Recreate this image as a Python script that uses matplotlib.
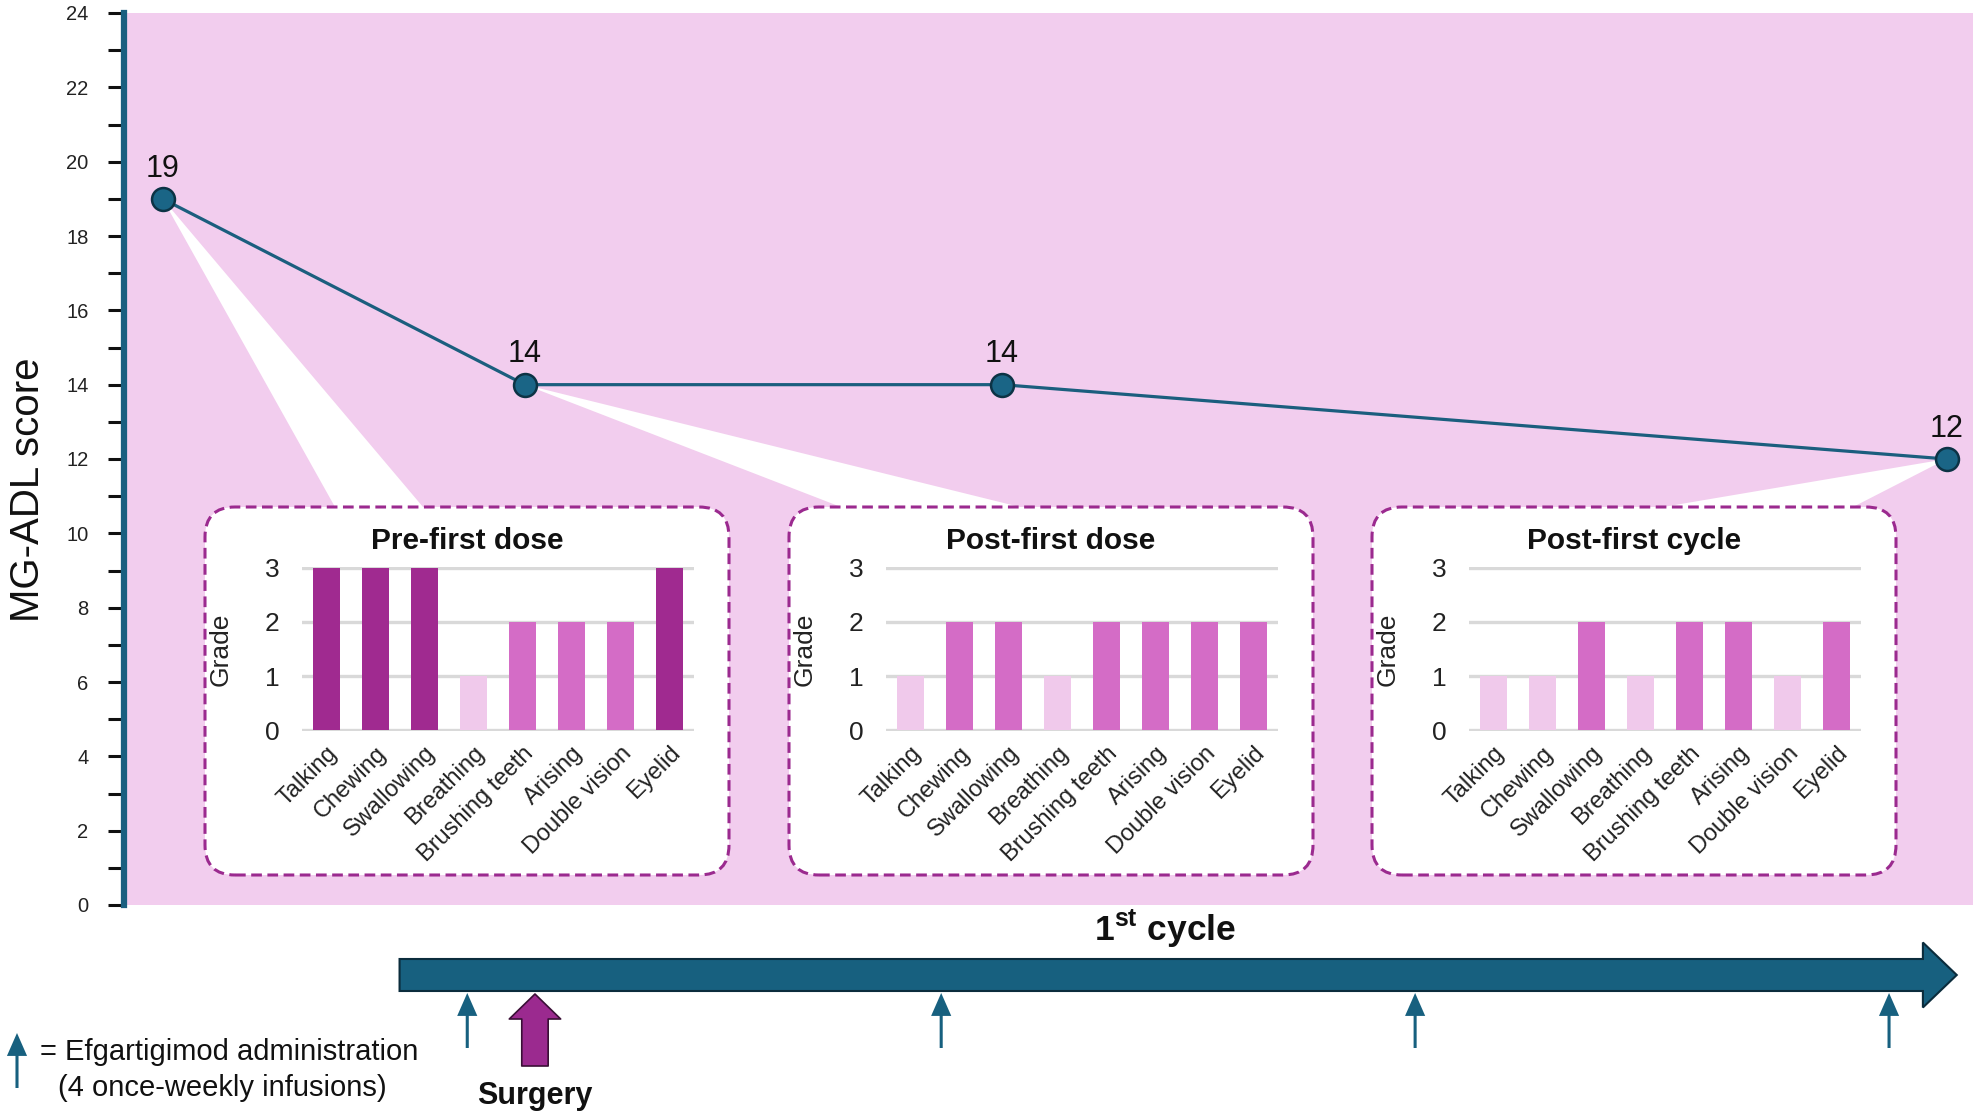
import matplotlib.pyplot as plt
from matplotlib.patches import FancyArrow, FancyArrowPatch, FancyBboxPatch, Polygon
from matplotlib.transforms import IdentityTransform

plt.rcParams['font.family'] = ['Liberation Sans', 'DejaVu Sans']
plt.rcParams['mathtext.fontset'] = 'custom'
plt.rcParams['mathtext.rm'] = 'Liberation Sans'
plt.rcParams['mathtext.bf'] = 'Liberation Sans:bold'

# MG-ADL score, x = days from first efgartigimod infusion
days = [-4.5, 0.85, 7.9, 21.85]
scores = [19, 14, 14, 12]
infusion_days = [0, 7, 14, 21]
surgery_day = 1
cycle_start, cycle_end = -1.0, 22.0

# item grades for the three snapshots
items = ["Talking", "Chewing", "Swallowing", "Breathing",
         "Brushing teeth", "Arising", "Double vision", "Eyelid"]
pre_first_dose = [3, 3, 3, 1, 2, 2, 2, 3]
post_first_dose = [1, 2, 2, 1, 2, 2, 2, 2]
post_first_cycle = [1, 1, 2, 1, 2, 2, 1, 2]
panel_titles = ["Pre-first dose", "Post-first dose", "Post-first cycle"]
panel_grades = [pre_first_dose, post_first_dose, post_first_cycle]
panel_source = [0, 1, 3]   # which score point each panel belongs to

teal = '#17607f'
pink_bg = '#f2cdee'
purple = '#9b2a8f'
grade_colors = {1: '#f0c9eb', 2: '#d46cc6', 3: '#a02a90'}

W, H = 1979, 1117
fig = plt.figure(figsize=(W / 100, H / 100), dpi=100)

# main score axes
ax = fig.add_axes([124 / W, (H - 905) / H, (1973 - 124) / W, (905 - 13) / H])
ax.set_facecolor(pink_bg)
ax.set_xlim(-5.07, 22.24)
ax.set_ylim(0, 24)
for s in ['top', 'right', 'bottom']:
    ax.spines[s].set_visible(False)
ax.spines['left'].set_color('#1a5f80')
ax.spines['left'].set_linewidth(4.5)
ax.set_yticks(range(0, 25))
ax.set_yticklabels([str(v) if v % 2 == 0 else '' for v in range(0, 25)])
ax.tick_params(axis='y', length=11.5, width=2.2, color='#111111', pad=14,
               labelsize=14.5, labelcolor='#222222')
ax.set_xticks([])

ax.plot(days, scores, color='#1b5e7e', lw=2.3, marker='o', ms=16.5,
        mfc='#1a6586', mec='#0c3345', mew=1.8, zorder=3, clip_on=False)
for d, s in zip(days, scores):
    ax.annotate(str(s), (d, s), xytext=(0, 16), textcoords='offset points',
                ha='center', va='baseline', fontsize=22, color='#111111', zorder=4)

fig.text(28 / W, 1 - 490 / H, 'MG-ADL score', rotation=90, ha='center',
         va='center', fontsize=29, color='#111111')

# inset panels (pixel layout)
box_lefts = [205, 789, 1372]
box_w, box_top, box_bottom = 524, 507, 875
wedge_feet = [(130, 218), (52, 231), (291, 481)]

for i, (title, grades) in enumerate(zip(panel_titles, panel_grades)):
    left = box_lefts[i]

    # white callout wedge from the score point to the box
    px, py = ax.transData.transform((days[panel_source[i]], scores[panel_source[i]]))
    fa, fb = wedge_feet[i]
    wedge = Polygon([(px, py), (left + fa, H - box_top), (left + fb, H - box_top)],
                    closed=True, fc='white', ec='none', transform=IdentityTransform(),
                    zorder=1.5)
    ax.add_patch(wedge)

    box = FancyBboxPatch((left, H - box_bottom), box_w, box_bottom - box_top,
                         boxstyle='round,pad=0,rounding_size=30', fc='white',
                         ec=purple, lw=2.2, ls=(0, (3.5, 1.8)),
                         transform=IdentityTransform(), zorder=1)
    fig.add_artist(box)

    iax = fig.add_axes([(left + 97) / W, (H - 731) / H, 392 / W, 164 / H], zorder=2)
    iax.set_facecolor('none')
    iax.bar(range(len(items)), grades, width=0.57,
            color=[grade_colors[g] for g in grades], zorder=2)
    iax.set_xlim(-0.5, len(items) - 0.5)
    iax.set_ylim(-0.015, 3.015)
    iax.set_yticks([0, 1, 2, 3])
    iax.set_axisbelow(True)
    iax.grid(axis='y', color='#d9d9d9', lw=2.4)
    for s in iax.spines.values():
        s.set_visible(False)
    iax.tick_params(axis='both', length=0)
    iax.tick_params(axis='y', labelsize=19, pad=16, labelcolor='#222222')
    iax.set_xticks(range(len(items)))
    iax.set_xticklabels(items, rotation=45, ha='right', rotation_mode='anchor',
                        fontsize=17, color='#222222')
    iax.tick_params(axis='x', pad=8)
    iax.set_ylabel('Grade', fontsize=19, color='#222222')
    iax.yaxis.set_label_coords(-69 / 392, 0.5)
    iax.text((box_w / 2 - 97) / 392, 1 + 26 / 164, title, transform=iax.transAxes,
             ha='center', va='center', fontsize=21.5, fontweight='bold', color='#111111')

# timeline below the main axes, sharing the day scale
tl = fig.add_axes([124 / W, 0, (1973 - 124) / W, (H - 905) / H])
tl.set_xlim(ax.get_xlim())
tl.set_ylim(H, 905)
tl.axis('off')

cycle = FancyArrow(cycle_start, 975, cycle_end - cycle_start, 0, width=32,
                   head_width=65, head_length=0.5, length_includes_head=True,
                   fc=teal, ec='#0b2c3c', lw=1.5, clip_on=False)
tl.add_patch(cycle)
tl.text(10.3, 929, r'1$^{\mathbf{st}}$ cycle', ha='center', va='center',
        fontsize=25.5, fontweight='bold', color='#111111')

thin_style = 'simple,head_length=16.5,head_width=14.5,tail_width=2.2'
for d in infusion_days:
    tl.annotate('', xy=(d, 993), xytext=(d, 1048),
                arrowprops=dict(arrowstyle=thin_style, mutation_scale=1,
                                fc=teal, ec='none', shrinkA=0, shrinkB=0))

tl.annotate('', xy=(surgery_day, 994), xytext=(surgery_day, 1066),
            arrowprops=dict(arrowstyle='simple,head_length=18,head_width=37,tail_width=19',
                            mutation_scale=1, fc=purple, ec='#3a0f36', lw=1.2,
                            shrinkA=0, shrinkB=0))
tl.text(surgery_day, 1096, 'Surgery', ha='center', va='center', fontsize=22,
        fontweight='bold', color='#111111')

# legend for the infusion arrows
fig.add_artist(FancyArrowPatch((17 / W, 1 - 1088 / H), (17 / W, 1 - 1033 / H),
                               transform=fig.transFigure, arrowstyle=thin_style,
                               mutation_scale=1, fc=teal, ec='none',
                               shrinkA=0, shrinkB=0))
fig.text(40 / W, 1 - 1052 / H, '= Efgartigimod administration', va='center',
         fontsize=21, color='#111111')
fig.text(58 / W, 1 - 1088 / H, '(4 once-weekly infusions)', va='center',
         fontsize=21, color='#111111')

fig.savefig('out.png', dpi=100)
